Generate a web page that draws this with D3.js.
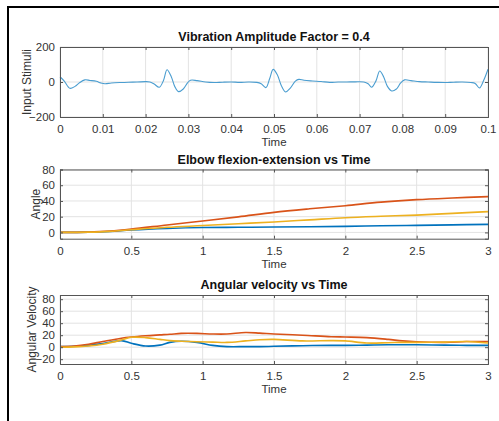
<!DOCTYPE html>
<html>
<head>
<meta charset="utf-8">
<script src="https://cdn.jsdelivr.net/npm/d3@7"></script>
<style>
  body { margin: 0; background: #fff; }
  svg { display: block; font-family: "Liberation Sans", Arial, sans-serif; }
</style>
</head>
<body>
<svg id="chart" width="499" height="421"></svg>
<script>
// --- data ---
const stimTime = [0, 0.001, 0.0023, 0.0035, 0.0045, 0.0058, 0.007, 0.0085, 0.0095, 0.0105, 0.012, 0.014, 0.016, 0.018, 0.02, 0.021, 0.022, 0.0232, 0.0242, 0.025, 0.026, 0.0268, 0.0277, 0.0288, 0.0298, 0.0305, 0.032, 0.034, 0.036, 0.038, 0.04, 0.042, 0.044, 0.046, 0.047, 0.0481, 0.049, 0.0498, 0.0508, 0.0517, 0.0527, 0.0538, 0.055, 0.0558, 0.057, 0.059, 0.061, 0.063, 0.065, 0.067, 0.069, 0.071, 0.072, 0.0728, 0.0738, 0.0747, 0.0756, 0.0765, 0.0775, 0.0786, 0.0796, 0.0805, 0.082, 0.084, 0.086, 0.088, 0.09, 0.092, 0.094, 0.096, 0.097, 0.098, 0.099, 0.1];
const stimValue = [30, 5, -36, -25, -5, 12, 9, 4, -5, -10, -6, -3, -1, 0, 2, 0, -12, -30, 10, 70, 30, -25, -55, -40, -5, 10, 8, 0, -3, -1, 0, -2, 0, -2, -10, -32, 20, 72, 40, -20, -57, -35, 5, 15, 10, 6, 3, -2, 0, 0, 1, 0, -10, -30, 5, 63, 30, -25, -51, -40, -5, 12, 8, 2, 0, -2, -3, -1, 0, -3, -8, -34, 10, 73];

const angleTime = [0, 0.2, 0.35, 0.5, 0.75, 1, 1.25, 1.5, 1.75, 2, 2.25, 2.5, 2.75, 3];
const angleBlue = [0, 0.3, 1.2, 3, 5, 6.2, 6.5, 6.8, 7.2, 7.7, 8.4, 9, 9.6, 10.2];
const angleRed = [0, 0.4, 1.7, 4.2, 9.5, 14.6, 19.8, 25.5, 30, 34, 38.5, 41.7, 43.8, 45.5];
const angleYellow = [0, 0.3, 1.3, 3.4, 6.5, 8.7, 11, 13.3, 16, 18.7, 20.5, 22, 24.2, 26.4];

const velTime = [0, 0.1, 0.2, 0.3, 0.43, 0.5, 0.6, 0.7, 0.77, 0.85, 0.96, 1.07, 1.17, 1.3, 1.4, 1.5, 1.7, 1.9, 2.0, 2.15, 2.3, 2.4, 2.5, 2.7, 2.85, 3];
const velBlue = [1, 1.5, 3, 6, 11, 6.5, 2, 3.5, 8, 10, 8, 3, 1, 1, 1, 1.5, 2.5, 3, 3, 3.5, 4, 4, 4, 3.5, 3, 3];
const velRed = [1, 2, 5, 9.5, 15, 17, 19, 20.5, 21.5, 23, 23, 22, 22, 24.5, 23.5, 22, 20, 17.5, 17, 16, 13, 10.5, 9, 8, 9.5, 9.5];
const velYellow = [0, 0.5, 2, 5, 12, 16.5, 16, 13, 11, 10, 9, 8.5, 8, 10.5, 12.5, 13, 10.5, 11, 10.5, 7, 7.5, 8, 8, 8.5, 9.5, 7];

const stimTicks = [0, 0.01, 0.02, 0.03, 0.04, 0.05, 0.06, 0.07, 0.08, 0.09, 0.1];
const timeTicks = [0, 0.5, 1, 1.5, 2, 2.5, 3];

const blue = "#0072BD", red = "#D95319", yellow = "#EDB120";

const svg = d3.select("#chart");

// outer figure frame (only top/left show inside the window)
svg.append("rect")
  .attr("x", 8).attr("y", 7)
  .attr("width", 520).attr("height", 440)
  .attr("fill", "none")
  .attr("stroke", "#000")
  .attr("stroke-width", 2);

const left = 60, right = 488;

function drawPanel(p) {
  const x = d3.scaleLinear().domain(p.xDomain).range([left, right]);
  const y = d3.scaleLinear().domain(p.yDomain).range([p.bottom, p.top]);
  const g = svg.append("g");

  // grid
  g.selectAll(".gx").data(p.xTicks).join("line")
    .attr("x1", d => x(d)).attr("x2", d => x(d))
    .attr("y1", p.top).attr("y2", p.bottom)
    .attr("stroke", "#e3e3e3");
  g.selectAll(".gy").data(p.yTicks).join("line")
    .attr("x1", left).attr("x2", right)
    .attr("y1", d => y(d)).attr("y2", d => y(d))
    .attr("stroke", "#e3e3e3");

  // lines
  const line = d3.line()
    .x((d, i) => x(p.xs[i]))
    .y(d => y(d))
    .curve(d3.curveCatmullRom.alpha(0.5));
  p.series.forEach(s => {
    g.append("path")
      .attr("d", line(s.values))
      .attr("fill", "none")
      .attr("stroke", s.color)
      .attr("stroke-width", s.width || 1.6);
  });

  // axes
  const xAxis = d3.axisBottom(x).tickValues(p.xTicks).tickSize(-3).tickPadding(8)
    .tickFormat(d => d3.format("")(+d.toFixed(3)));
  const yAxis = d3.axisLeft(y).tickValues(p.yTicks).tickSize(-3).tickPadding(5);
  const ax = g.append("g").attr("transform", `translate(0,${p.bottom})`).call(xAxis);
  g.append("g").attr("transform", `translate(${left},0)`).call(yAxis);
  g.append("g").attr("transform", `translate(0,${p.top})`)
    .call(d3.axisTop(x).tickValues(p.xTicks).tickSize(-3).tickFormat(""));
  g.append("g").attr("transform", `translate(${right},0)`)
    .call(d3.axisRight(y).tickValues(p.yTicks).tickSize(-3).tickFormat(""));
  g.selectAll(".domain").attr("stroke", "#555");
  g.selectAll(".tick line").attr("stroke", "#555");
  g.selectAll(".tick text").attr("fill", "#333").attr("font-size", 11.5)
    .attr("font-family", "Liberation Sans, Arial, sans-serif");
  ax.selectAll(".tick text").attr("dy", "0.71em");

  // title
  g.append("text")
    .attr("x", (left + right) / 2).attr("y", p.top - 6)
    .attr("text-anchor", "middle")
    .attr("font-size", 12.5).attr("font-weight", "bold").attr("fill", "#111")
    .text(p.title);
  // x label
  g.append("text")
    .attr("x", (left + right) / 2).attr("y", p.bottom + 29)
    .attr("text-anchor", "middle")
    .attr("font-size", 11.5).attr("fill", "#333")
    .text("Time");
  // y label
  g.append("text")
    .attr("transform", `translate(${p.yLabelX},${(p.top + p.bottom) / 2}) rotate(-90)`)
    .attr("text-anchor", "middle")
    .attr("font-size", 12).attr("fill", "#333")
    .text(p.yLabel);
}

drawPanel({
  title: "Vibration Amplitude Factor = 0.4",
  yLabel: "Input Stimuli", yLabelX: 31,
  top: 47, bottom: 117,
  xDomain: [0, 0.1], yDomain: [-200, 200],
  xTicks: stimTicks, yTicks: [-200, 0, 200],
  xs: stimTime,
  series: [{values: stimValue, color: "#4a9dd0", width: 1.1}]
});

drawPanel({
  title: "Elbow flexion-extension vs Time",
  yLabel: "Angle", yLabelX: 40,
  top: 169.5, bottom: 238.7,
  xDomain: [0, 3], yDomain: [-8, 80],
  xTicks: timeTicks, yTicks: [0, 20, 40, 60, 80],
  xs: angleTime,
  series: [
    {values: angleBlue, color: blue},
    {values: angleRed, color: red},
    {values: angleYellow, color: yellow}
  ]
});

drawPanel({
  title: "Angular velocity vs Time",
  yLabel: "Angular Velocity", yLabelX: 36,
  top: 295, bottom: 364,
  xDomain: [0, 3], yDomain: [-28, 87],
  xTicks: timeTicks, yTicks: [-20, 0, 20, 40, 60, 80],
  xs: velTime,
  series: [
    {values: velBlue, color: blue},
    {values: velRed, color: red},
    {values: velYellow, color: yellow}
  ]
});
</script>
</body>
</html>
